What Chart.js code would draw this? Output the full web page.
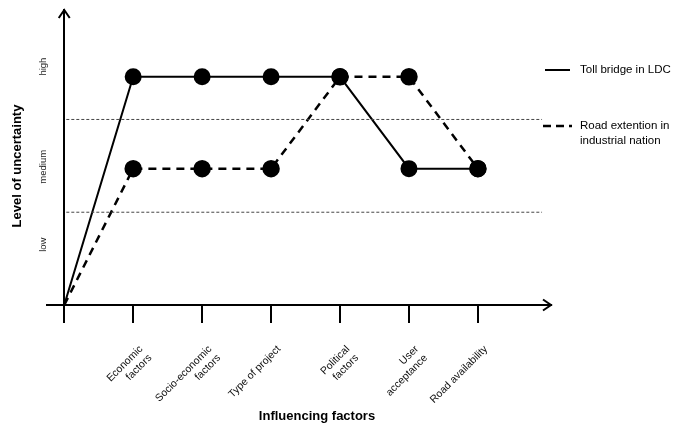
<!DOCTYPE html>
<html>
<head>
<meta charset="utf-8">
<script src="https://cdn.jsdelivr.net/npm/chart.js@4"></script>
<style>
  body { margin: 0; background: #fff; }
</style>
</head>
<body>
<canvas id="chart" width="685" height="426"></canvas>
<script>
// uncertainty levels (y units, dotted separators sit at 1 and 2)
const MED = 1.47
const HIGH = 2.46

const factors = [
  '',
  ['Economic', 'factors'],
  ['Socio-economic', 'factors'],
  'Type of project',
  ['Political', 'factors'],
  ['User', 'acceptance'],
  'Road availability'
]
const tollBridge = [0, HIGH, HIGH, HIGH, HIGH, MED, MED]
const roadExtension = [0, MED, MED, MED, HIGH, HIGH, MED]
const levelNames = ['low', 'medium', 'high']
const levelPos = [0.65, 1.49, 2.57]
const separators = [1, 2]

const FONT = '"Liberation Sans", Arial, sans-serif'
const toPoints = arr => arr.map((v, i) => ({ x: i, y: v }))
const radii = [0, 7.5, 7.5, 7.5, 7.5, 7.5, 7.5]

const sepSets = separators.map(v => ({
  data: [{ x: 0.03, y: v }, { x: 6.93, y: v }],
  borderColor: '#444',
  borderWidth: 1,
  borderDash: [3, 2],
  pointRadius: 0
}))

const extras = {
  id: 'extras',
  afterDraw(chart) {
    const { ctx, scales: { x, y } } = chart
    const x0 = x.getPixelForValue(0)
    const y0 = y.getPixelForValue(0)
    const xEnd = x.right
    const yTop = y.top
    ctx.save()
    ctx.strokeStyle = '#000'
    ctx.lineWidth = 2
    ctx.lineJoin = 'miter'
    // arrow heads
    ctx.beginPath()
    ctx.moveTo(x0 - 5.5, yTop + 8)
    ctx.lineTo(x0, yTop)
    ctx.lineTo(x0 + 5.5, yTop + 8)
    ctx.stroke()
    ctx.beginPath()
    ctx.moveTo(xEnd - 8, y0 - 5.5)
    ctx.lineTo(xEnd, y0)
    ctx.lineTo(xEnd - 8, y0 + 5.5)
    ctx.stroke()

    // level names
    ctx.fillStyle = '#222'
    ctx.font = '9.5px ' + FONT
    ctx.textAlign = 'center'
    ctx.textBaseline = 'middle'
    levelNames.forEach((t, i) => {
      ctx.save()
      ctx.translate(43, y.getPixelForValue(levelPos[i]))
      ctx.rotate(-Math.PI / 2)
      ctx.fillText(t, 0, 0)
      ctx.restore()
    })

    // axis titles
    ctx.fillStyle = '#000'
    ctx.font = 'bold 13px ' + FONT
    ctx.save()
    ctx.translate(17, 166)
    ctx.rotate(-Math.PI / 2)
    ctx.fillText('Level of uncertainty', 0, 0)
    ctx.restore()
    ctx.fillText('Influencing factors', 317, 416)

    // legend
    ctx.font = '11.5px ' + FONT
    ctx.textAlign = 'left'
    ctx.beginPath()
    ctx.moveTo(545, 70)
    ctx.lineTo(570, 70)
    ctx.stroke()
    ctx.fillText('Toll bridge in LDC', 580, 70)
    ctx.lineWidth = 2.5
    ctx.setLineDash([8, 5])
    ctx.beginPath()
    ctx.moveTo(543, 126)
    ctx.lineTo(572, 126)
    ctx.stroke()
    ctx.setLineDash([])
    ctx.fillText('Road extention in', 580, 126)
    ctx.fillText('industrial nation', 580, 141)
    ctx.restore()
  }
}

new Chart(document.getElementById('chart'), {
  type: 'line',
  data: {
    datasets: [
      ...sepSets,
      {
        label: 'Toll bridge in LDC',
        data: toPoints(tollBridge),
        borderColor: '#000',
        backgroundColor: '#000',
        borderWidth: 2,
        pointRadius: radii,
        pointHoverRadius: radii
      },
      {
        label: 'Road extention in industrial nation',
        data: toPoints(roadExtension),
        borderColor: '#000',
        backgroundColor: '#000',
        borderWidth: 2.5,
        borderDash: [8, 6],
        pointRadius: radii,
        pointHoverRadius: radii
      }
    ]
  },
  options: {
    responsive: false,
    animation: false,
    layout: { padding: { left: 47, right: 134, top: 8, bottom: 0 } },
    plugins: { legend: { display: false }, tooltip: { enabled: false } },
    scales: {
      x: {
        type: 'linear',
        min: -0.25,
        max: 7.06,
        afterBuildTicks(scale) {
          scale.ticks = [0, 1, 2, 3, 4, 5, 6].map(v => ({ value: v }))
        },
        afterFit(scale) { scale.height = 121 },
        ticks: {
          minRotation: 45,
          maxRotation: 45,
          padding: 20,
          labelOffset: 8,
          autoSkip: false,
          color: '#111',
          font: { family: FONT, size: 10.5 },
          callback: v => factors[v] ?? ''
        },
        grid: { drawOnChartArea: false, drawTicks: true, tickLength: 18, color: '#000', lineWidth: 2 },
        border: { display: true, color: '#000', width: 2 }
      },
      y: {
        min: 0,
        max: 3.18,
        position: { x: 0 },
        ticks: { display: false },
        grid: { display: false },
        border: { display: true, color: '#000', width: 2 }
      }
    }
  },
  plugins: [extras]
})
</script>
</body>
</html>
